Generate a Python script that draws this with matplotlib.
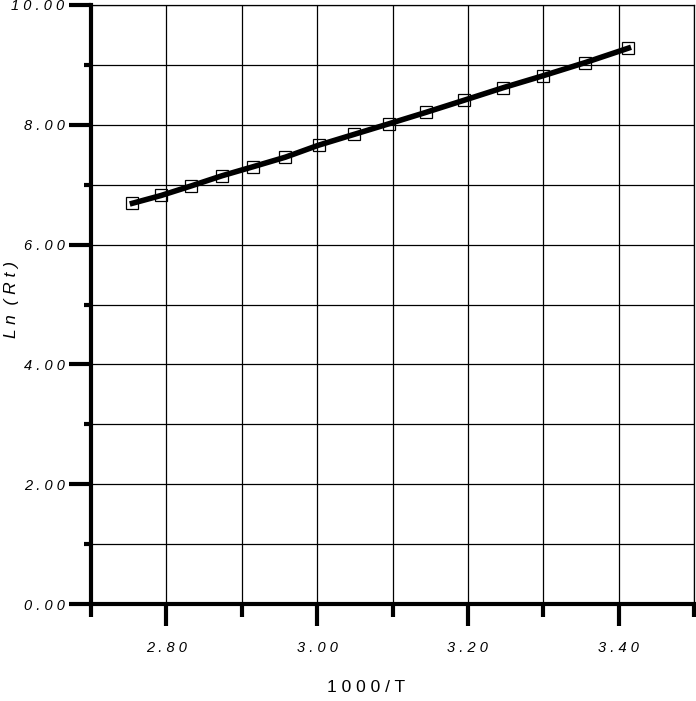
import matplotlib
matplotlib.use('Agg')
import matplotlib.pyplot as plt
from matplotlib.ticker import FixedLocator

# data
inv_T = [2.755, 2.793, 2.833, 2.874, 2.915, 2.958, 3.002, 3.049, 3.096,
         3.145, 3.195, 3.247, 3.300, 3.356, 3.413]
ln_Rt = [6.69, 6.82, 6.98, 7.15, 7.30, 7.46, 7.66, 7.84, 8.02,
         8.21, 8.41, 8.62, 8.82, 9.04, 9.28]

x_major = [2.80, 3.00, 3.20, 3.40]
x_minor = [2.70, 2.90, 3.10, 3.30, 3.50]
y_major = [0, 2, 4, 6, 8, 10]
y_minor = [1, 3, 5, 7, 9]

fam = ['Liberation Sans Narrow', 'Liberation Sans', 'DejaVu Sans']


def spaced(s):
    return ' '.join(s)


fig = plt.figure(figsize=(6.96, 7.01), dpi=100)
ax = fig.add_axes([91/696, 1 - 604/701, (694 - 91)/696, (604 - 5)/701])

ax.plot(inv_T, ln_Rt, '-', color='black', lw=4, zorder=3)
ax.plot(inv_T, ln_Rt, 's', ms=8.5, mfc='none', mec='black', mew=0.9, zorder=4)

ax.set_xlim(2.70, 3.50)
ax.set_ylim(0, 10)

ax.xaxis.set_major_locator(FixedLocator(x_major))
ax.xaxis.set_minor_locator(FixedLocator(x_minor))
ax.yaxis.set_major_locator(FixedLocator(y_major))
ax.yaxis.set_minor_locator(FixedLocator(y_minor))

ax.set_xticklabels([spaced('%.2f' % v) for v in x_major], family=fam,
                   style='italic', fontsize=10.5)
ax.set_yticklabels([spaced('%.2f' % v) for v in y_major], family=fam,
                   style='italic', fontsize=10.5)

ax.tick_params(axis='x', which='major', length=16, width=3, pad=11, direction='out')
ax.tick_params(axis='x', which='minor', length=9, width=3, direction='out')
ax.tick_params(axis='y', which='major', length=16, width=3, pad=3, direction='out')
ax.tick_params(axis='y', which='minor', length=5, width=3, direction='out')

ax.grid(True, which='both', color='black', lw=0.9)
ax.set_axisbelow(True)

ax.spines['left'].set_linewidth(3)
ax.spines['bottom'].set_linewidth(3)
ax.spines['top'].set_linewidth(0.9)
ax.spines['right'].set_linewidth(0.9)

fig.text(12/696, 1 - 300/701, 'L n  ( R t )', rotation=90, ha='center',
         va='center', family=fam, style='italic', fontsize=12.5)
fig.text(366/696, 1 - 688/701, spaced('1000/T'), ha='center', va='center',
         family=fam, fontsize=12.5)

fig.savefig('out.png', dpi=100)
